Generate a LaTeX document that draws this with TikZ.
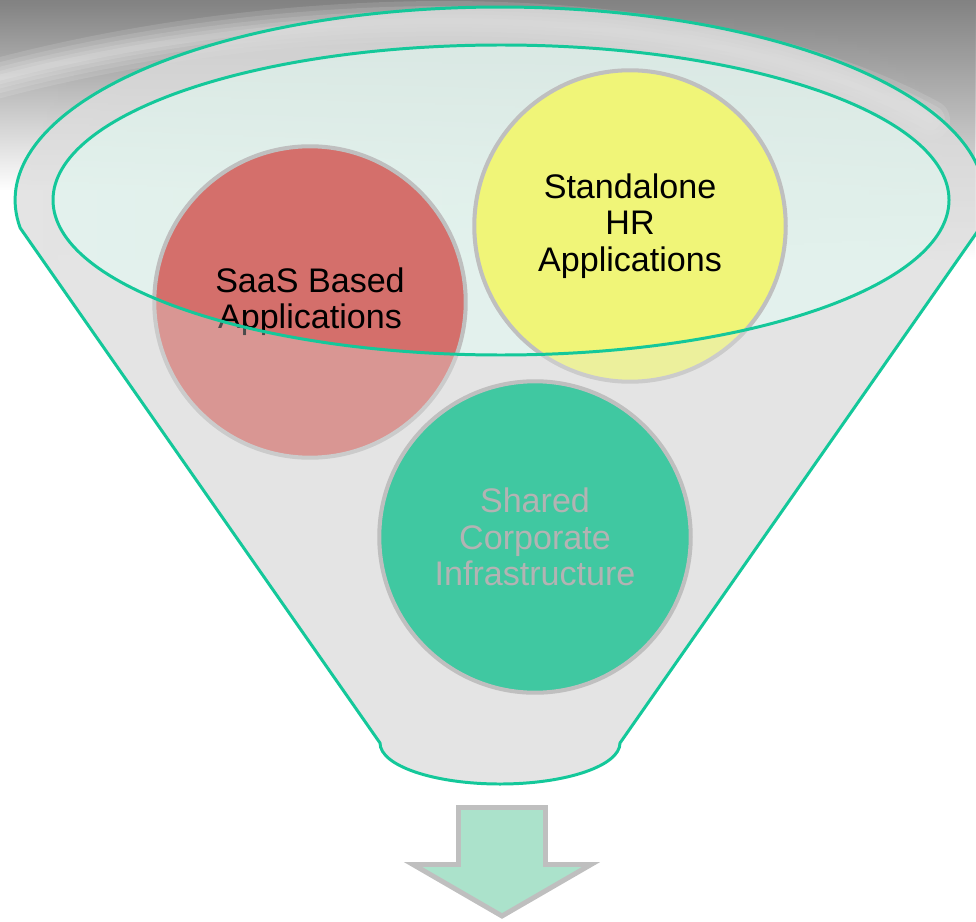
\documentclass[tikz,border=0pt]{standalone}
\usepackage{fontspec}
\setmainfont{Liberation Sans}
\usetikzlibrary{fadings}
\definecolor{funnelLine}{HTML}{14C89A}
\definecolor{funnelFill}{HTML}{D8D8D8}
\definecolor{mintFill}{HTML}{E3F8F1}
\definecolor{washGray}{HTML}{E6E6E6}
\definecolor{ringGray}{HTML}{BFBFBF}
\definecolor{saasRed}{HTML}{D46F6B}
\definecolor{hrYellow}{HTML}{F0F578}
\definecolor{infraGreen}{HTML}{40C8A1}
\definecolor{infraText}{HTML}{B3B3B3}
\definecolor{arrowFill}{HTML}{ABE2CB}
\definecolor{bgGray}{HTML}{828282}
\definecolor{bgMidLeft}{HTML}{E1E1E1}
\definecolor{bgMidRight}{HTML}{D2D2D2}

% funnel body: top rim arc, two sides, rounded spout
\newcommand{\funnelshape}{(979.9,693) arc[start angle=-8.34, end angle=188.34, x radius=485, y radius=193]
  -- (380,178) arc[start angle=180, end angle=360, x radius=120, y radius=41] -- cycle}
\newcommand{\funnelmouth}{(501,721) ellipse [x radius=448, y radius=155]}

\begin{document}
\begin{tikzpicture}[
  x=0.02cm, y=0.02cm,
  bubble/.style={circle, draw=ringGray, line width=2.3pt, minimum size=6.23cm,
                 inner sep=0pt, align=center, text=black,
                 font=\fontsize{19.4}{20.6}\selectfont},
  rim/.style={draw=funnelLine, line width=1.7pt},
  washout/.style={fill=washGray, fill opacity=0.33},
  outarrow/.style={draw=ringGray, line width=2.8pt, fill=arrowFill, miter limit=4},
  swoosh/.style={draw=white, line cap=round, opacity=0.12},
]
\useasboundingbox (0,0) rectangle (976,921);

% ---------------- BACKGROUND ----------------
\shade[top color=bgGray, middle color=bgMidLeft, bottom color=white] (0,731) rectangle (976,921);
\shade[top color=bgGray, middle color=bgMidRight, bottom color=white, path fading=west]
  (0,661) rectangle (976,921);
% soft light streak across the top
\foreach \w in {40,30,21,13,6}
  \draw[swoosh, line width=\w*0.02cm]
    (-20,838) .. controls (300,926) and (700,926) .. (930,801);

% ---------------- FUNNEL FILLS ----------------
\fill[funnelFill, opacity=0.7] \funnelshape;
\fill[mintFill, opacity=0.7] \funnelmouth;

% ---------------- CIRCLES IN THE MOUTH ----------------
\node[bubble, fill=saasRed] (saas) at (310,619) {SaaS Based\\Applications};
\node[bubble, fill=hrYellow] (standalone) at (630,695) {Standalone\\HR\\Applications};

% body of the funnel washes out what lies below the mouth
\fill[washout, even odd rule] \funnelshape \funnelmouth;

\node[bubble, fill=infraGreen, text=infraText] (shared) at (535,384)
  {Shared\\Corporate\\Infrastructure};

% ---------------- OUTLINES ----------------
\draw[rim] \funnelmouth;
\draw[rim] \funnelshape;

% ---------------- OUTPUT ARROW ----------------
\draw[outarrow] (458.5,113.5) -- (545.5,113.5) -- (545.5,56.5) -- (591,56.5)
  -- (502,5) -- (413,56.5) -- (458.5,56.5) -- cycle;
\end{tikzpicture}
\end{document}
